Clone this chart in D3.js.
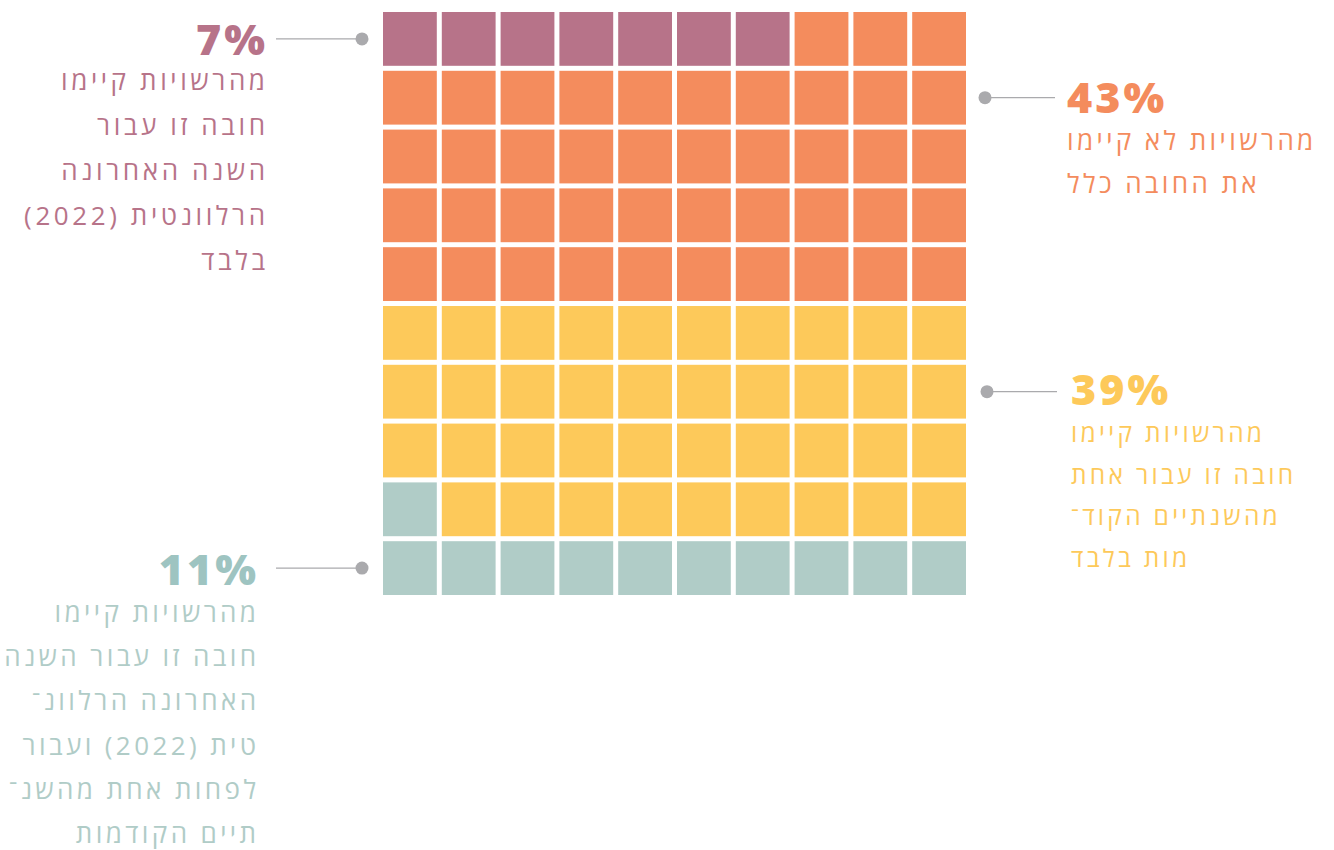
<!DOCTYPE html>
<html><head><meta charset="utf-8">
<script src="https://cdn.jsdelivr.net/npm/d3@7"></script>
<style>
html,body{margin:0;padding:0;background:#fff;}
svg text{font-family:"Open Sans","DejaVu Sans",sans-serif;}
</style></head>
<body>
<svg id="chart" width="1334" height="850"></svg>
<script>
// ---- data ----
const categories = ["top2022", "none", "oneOfPrev", "topAndPrev"];
const values = [7, 43, 39, 11];
const colors = ["#B77389", "#F48C5D", "#FDC95A", "#B0CCC7"];
const pctLabels = ["7%", "43%", "39%", "11%"];
const pctColors = ["#B77389", "#F48C5D", "#FDC95A", "#9EC4C1"];
const descLines = [
  ["מהרשויות קיימו", "חובה זו עבור", "השנה האחרונה", "הרלוונטית (2022)", "בלבד"],
  ["מהרשויות לא קיימו", "את החובה כלל"],
  ["מהרשויות קיימו", "חובה זו עבור אחת", "מהשנתיים הקוד־", "מות בלבד"],
  ["מהרשויות קיימו", "חובה זו עבור השנה", "האחרונה הרלוונ־", "טית (2022) ועבור", "לפחות אחת מהשנ־", "תיים הקודמות"]
];
// grid row each annotation points at, and side
const annotRow = [0, 1, 6, 9];
const annotSide = ["left", "right", "right", "left"];

// ---- layout ----
const svg = d3.select("#chart");
const nCols = 10, nRows = 10;
const x = d3.scaleBand().domain(d3.range(nCols)).range([383, 966]).paddingInner(0.085).paddingOuter(0);
const y = d3.scaleBand().domain(d3.range(nRows)).range([12, 595]).paddingInner(0.085).paddingOuter(0);

// assign cells: top group (0,1) fills from top-left; bottom group (3,2) fills from bottom-left upward
const cells = [];
const assign = new Array(nRows * nCols).fill(-1);
let idx = 0;
[0, 1].forEach(c => { for (let k = 0; k < values[c]; k++) { assign[idx++] = c; } });
let bidx = 0;
[3, 2].forEach(c => {
  for (let k = 0; k < values[c]; k++) {
    const r = nRows - 1 - Math.floor(bidx / nCols), col = bidx % nCols;
    assign[r * nCols + col] = c; bidx++;
  }
});
for (let r = 0; r < nRows; r++) for (let c = 0; c < nCols; c++) cells.push({r, c, cat: assign[r * nCols + c]});

svg.append("g").selectAll("rect").data(cells).join("rect")
  .attr("x", d => x(d.c)).attr("y", d => y(d.r))
  .attr("width", x.bandwidth()).attr("height", y.bandwidth())
  .attr("fill", d => colors[d.cat]);

// ---- annotations ----
const cfg = [
  {pctX: 265, pctY: 55, lineY0: 90, lh: 45, fs: 26, ls: 3.6, dotX: 362, lineX: 276},
  {pctX: 1067, pctY: 113, lineY0: 150, lh: 43, fs: 26, ls: 3.4, dotX: 985, lineX: 1055},
  {pctX: 1071, pctY: 405, lineY0: 442, lh: 41.5, fs: 24.5, ls: 3.3, dotX: 987, lineX: 1057},
  {pctX: 256, pctY: 585, lineY0: 622, lh: 44.2, fs: 26, ls: 3.4, dotX: 362, lineX: 276}
];
const pctFs = 43, pctLs = 3;
const ann = svg.append("g");
categories.forEach((cat, i) => {
  const c = cfg[i];
  const cy = y(annotRow[i]) + y.bandwidth() / 2;
  ann.append("line").attr("x1", c.lineX).attr("x2", c.dotX).attr("y1", cy).attr("y2", cy)
    .attr("stroke", "#AAAAAD").attr("stroke-width", 1.3);
  ann.append("circle").attr("cx", c.dotX).attr("cy", cy).attr("r", 6.5).attr("fill", "#AAAAAD");
  const left = annotSide[i] === "left";
  ann.append("text").attr("x", left ? c.pctX + pctLs : c.pctX).attr("y", c.pctY)
    .attr("text-anchor", left ? "end" : "start")
    .attr("font-size", pctFs).attr("font-weight", 800).attr("letter-spacing", pctLs)
    .attr("fill", pctColors[i]).text(pctLabels[i]);
  ann.selectAll(null).data(descLines[i]).join("text")
    .attr("x", left ? c.pctX + c.ls : c.pctX).attr("y", (d, j) => c.lineY0 + j * c.lh)
    .attr("direction", "rtl").style("direction", "rtl")
    .attr("text-anchor", left ? "start" : "end")
    .attr("font-size", c.fs).attr("font-weight", 400).attr("letter-spacing", c.ls)
    .attr("fill", colors[i]).text(d => d);
});
</script>
</body></html>
